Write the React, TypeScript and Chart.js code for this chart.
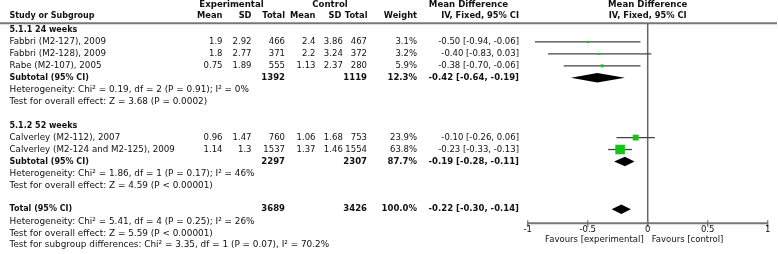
import React, { useEffect, useRef } from "react";
import { Chart, registerables } from "chart.js";

Chart.register(...registerables);

// ---------- data ----------
const studyNames = [
  "Fabbri (M2-127), 2009",
  "Fabbri (M2-128), 2009",
  "Rabe (M2-107), 2005",
  "Calverley (M2-112), 2007",
  "Calverley (M2-124 and M2-125), 2009",
];
const studyGroup = [0, 0, 0, 1, 1];
const expMean = [1.9, 1.8, 0.75, 0.96, 1.14];
const expSD = [2.92, 2.77, 1.89, 1.47, 1.3];
const expTotal = [466, 371, 555, 760, 1537];
const ctlMean = [2.4, 2.2, 1.13, 1.06, 1.37];
const ctlSD = [3.86, 3.24, 2.37, 1.68, 1.46];
const ctlTotal = [467, 372, 280, 753, 1554];
const weights = [3.1, 3.2, 5.9, 23.9, 63.8];
const meanDiff = [-0.5, -0.4, -0.38, -0.1, -0.23];
const ciLow = [-0.94, -0.83, -0.7, -0.26, -0.33];
const ciHigh = [-0.06, 0.03, -0.06, 0.06, -0.13];

const groupLabels = ["5.1.1 24 weeks", "5.1.2 52 weeks"];
const groupExpTotal = [1392, 2297];
const groupCtlTotal = [1119, 2307];
const groupWeight = [12.3, 87.7];
const groupMD = [-0.42, -0.19];
const groupLow = [-0.64, -0.28];
const groupHigh = [-0.19, -0.11];
const groupHet = [
  "Heterogeneity: Chi² = 0.19, df = 2 (P = 0.91); I² = 0%",
  "Heterogeneity: Chi² = 1.86, df = 1 (P = 0.17); I² = 46%",
];
const groupEffect = [
  "Test for overall effect: Z = 3.68 (P = 0.0002)",
  "Test for overall effect: Z = 4.59 (P < 0.00001)",
];

const totalExp = 3689;
const totalCtl = 3426;
const totalWeight = 100.0;
const totalMD = -0.22;
const totalLow = -0.3;
const totalHigh = -0.14;
const totalNotes = [
  "Heterogeneity: Chi² = 5.41, df = 4 (P = 0.25); I² = 26%",
  "Test for overall effect: Z = 5.59 (P < 0.00001)",
  "Test for subgroup differences: Chi² = 3.35, df = 1 (P = 0.07), I² = 70.2%",
];

const axisTicks = [-1, -0.5, 0, 0.5, 1];
const axisTickLabels = ["-1", "-0.5", "0", "0.5", "1"];
const favoursLeft = "Favours [experimental]";
const favoursRight = "Favours [control]";

// ---------- row layout (row units) ----------
const studyRow: number[] = new Array(studyNames.length).fill(0);
const groupRow: { header: number; sub: number; het: number; eff: number }[] = [];
let r = 0;
groupLabels.forEach((_, g) => {
  const header = r;
  r++;
  studyNames.forEach((_, k) => {
    if (studyGroup[k] === g) {
      studyRow[k] = r;
      r++;
    }
  });
  const sub = r++;
  const het = r++;
  const eff = r++;
  groupRow.push({ header, sub, het, eff });
  r++; // blank
});
const totalRow = r;

const FONT = '"DejaVu Sans", sans-serif';

function fmt2(v: number) {
  return v.toFixed(2);
}
function ciText(m: number, lo: number, hi: number) {
  return `${fmt2(m)} [${fmt2(lo)}, ${fmt2(hi)}]`;
}

export default function App() {
  const ref = useRef<HTMLCanvasElement>(null);

  useEffect(() => {
    const canvas = ref.current!;
    const COL = {
      name: 9.5,
      eMean: 222.5,
      eSD: 251.5,
      eTot: 285,
      cMean: 315.5,
      cSD: 342.8,
      cTot: 367,
      wt: 417,
      ci: 519,
    };
    const NUM = 8.5; // numbers
    const NAME = 8.7; // study names
    const NOTE = 8.9; // notes
    const LAB = 8; // bold left labels
    const HEAD = 8.3; // column headers

    const textPlugin = {
      id: "forestText",
      beforeDraw(chart: any) {
        const c = chart.ctx;
        c.save();
        c.fillStyle = "#fff";
        c.fillRect(0, 0, chart.width, chart.height);
        c.restore();
      },
      beforeDatasetsDraw(chart: any) {
        const c = chart.ctx;
        const xs = chart.scales.x;
        const ys = chart.scales.y;
        const yHead = ys.getPixelForValue(-0.56);
        const yAxis = ys.getPixelForValue(16.17);
        const x0 = xs.getPixelForValue(0);
        c.save();
        c.strokeStyle = "#777";
        c.lineWidth = 2;
        c.beginPath();
        c.moveTo(0, yHead);
        c.lineTo(777, yHead);
        c.stroke();
        c.strokeStyle = "#666";
        c.lineWidth = 1.5;
        c.beginPath();
        c.moveTo(x0, yHead);
        c.lineTo(x0, yAxis);
        c.stroke();
        c.strokeStyle = "#777";
        c.lineWidth = 2;
        c.beginPath();
        c.moveTo(xs.getPixelForValue(axisTicks[0]), yAxis);
        c.lineTo(xs.getPixelForValue(axisTicks[axisTicks.length - 1]), yAxis);
        c.stroke();
        c.lineWidth = 1.3;
        axisTicks.forEach((t) => {
          const px = xs.getPixelForValue(t);
          c.beginPath();
          c.moveTo(px, yAxis - 3);
          c.lineTo(px, yAxis + 3.5);
          c.stroke();
        });
        c.restore();
      },
      afterDraw(chart: any) {
        const c = chart.ctx;
        const xs = chart.scales.x;
        const ys = chart.scales.y;
        const Y = (row: number) => ys.getPixelForValue(row);
        const x0 = xs.getPixelForValue(0);
        const t = (s: string, x: number, y: number, align: CanvasTextAlign, size: number, bold = false) => {
          c.font = `${bold ? "bold " : ""}${size}px ${FONT}`;
          c.textAlign = align;
          c.textBaseline = "middle";
          c.fillText(s, x, y);
        };
        c.save();
        c.fillStyle = "#111";

        const h1 = Y(-2.09);
        const h2 = Y(-1.17);
        t("Experimental", 231.5, h1, "center", 8.6, true);
        t("Control", 330, h1, "center", 8.6, true);
        t("Mean Difference", 468.5, h1, "center", 8.6, true);
        t("Mean Difference", x0, h1, "center", 8.6, true);
        t("Study or Subgroup", COL.name, h2, "left", LAB, true);
        t("Mean", COL.eMean, h2, "right", HEAD, true);
        t("SD", COL.eSD, h2, "right", HEAD, true);
        t("Total", COL.eTot, h2, "right", HEAD, true);
        t("Mean", COL.cMean, h2, "right", HEAD, true);
        t("SD", COL.cSD - 1.5, h2, "right", HEAD, true);
        t("Total", COL.cTot + 0.5, h2, "right", HEAD, true);
        t("Weight", COL.wt, h2, "right", HEAD, true);
        t("IV, Fixed, 95% CI", COL.ci, h2, "right", HEAD, true);
        t("IV, Fixed, 95% CI", x0, h2, "center", HEAD, true);

        studyNames.forEach((name, k) => {
          const y = Y(studyRow[k]);
          t(name, COL.name, y, "left", NAME);
          t(String(expMean[k]), COL.eMean, y, "right", NUM);
          t(String(expSD[k]), COL.eSD, y, "right", NUM);
          t(String(expTotal[k]), COL.eTot, y, "right", NUM);
          t(String(ctlMean[k]), COL.cMean, y, "right", NUM);
          t(String(ctlSD[k]), COL.cSD, y, "right", NUM);
          t(String(ctlTotal[k]), COL.cTot, y, "right", NUM);
          t(weights[k].toFixed(1) + "%", COL.wt, y, "right", NUM);
          t(ciText(meanDiff[k], ciLow[k], ciHigh[k]), COL.ci, y, "right", NUM);
        });

        const diamond = (m: number, lo: number, hi: number, y: number) => {
          const h = 4.8;
          c.beginPath();
          c.moveTo(xs.getPixelForValue(lo), y);
          c.lineTo(xs.getPixelForValue(m), y - h);
          c.lineTo(xs.getPixelForValue(hi), y);
          c.lineTo(xs.getPixelForValue(m), y + h);
          c.closePath();
          c.fillStyle = "#000";
          c.fill();
          c.fillStyle = "#111";
        };

        groupLabels.forEach((lab, g) => {
          const gr = groupRow[g];
          t(lab, COL.name, Y(gr.header), "left", LAB, true);
          const ys2 = Y(gr.sub);
          t("Subtotal (95% CI)", COL.name, ys2, "left", LAB, true);
          t(String(groupExpTotal[g]), COL.eTot, ys2, "right", NUM, true);
          t(String(groupCtlTotal[g]), COL.cTot, ys2, "right", NUM, true);
          t(groupWeight[g].toFixed(1) + "%", COL.wt, ys2, "right", NUM, true);
          t(ciText(groupMD[g], groupLow[g], groupHigh[g]), COL.ci, ys2, "right", NUM, true);
          t(groupHet[g], COL.name, Y(gr.het), "left", NOTE);
          t(groupEffect[g], COL.name, Y(gr.eff), "left", NOTE);
          diamond(groupMD[g], groupLow[g], groupHigh[g], ys2);
        });

        const yt = Y(totalRow);
        t("Total (95% CI)", COL.name, yt, "left", LAB, true);
        t(String(totalExp), COL.eTot, yt, "right", NUM, true);
        t(String(totalCtl), COL.cTot, yt, "right", NUM, true);
        t(totalWeight.toFixed(1) + "%", COL.wt, yt, "right", NUM, true);
        t(ciText(totalMD, totalLow, totalHigh), COL.ci, yt, "right", NUM, true);
        totalNotes.forEach((s, i) => t(s, COL.name, Y(totalRow + 1 + i), "left", NOTE));
        diamond(totalMD, totalLow, totalHigh, yt);

        const yAxis = ys.getPixelForValue(16.17);
        axisTicks.forEach((tk, i) => t(axisTickLabels[i], xs.getPixelForValue(tk), yAxis + 6.5, "center", NUM));
        t(favoursLeft, x0 - 4, yAxis + 17, "right", NUM);
        t(favoursRight, x0 + 4, yAxis + 17, "left", NUM);
        c.restore();
      },
    };

    const whiskers = studyNames.map((_, k) => ({
      type: "scatter" as const,
      data: [
        { x: ciLow[k], y: studyRow[k] },
        { x: ciHigh[k], y: studyRow[k] },
      ],
      showLine: true,
      borderColor: "#444",
      borderWidth: 1.3,
      pointRadius: 0,
      order: 1,
      clip: false as any,
    }));

    const chart = new Chart(canvas, {
      type: "scatter",
      data: {
        datasets: [
          {
            data: meanDiff.map((m, k) => ({ x: m, y: studyRow[k] })),
            pointStyle: "rect",
            pointRadius: weights.map((w) => (1.2 * Math.sqrt(w)) / Math.SQRT2),
            backgroundColor: "#14c414",
            borderWidth: 0,
            showLine: false,
            order: 0,
            clip: false as any,
          } as any,
          ...whiskers,
        ],
      },
      options: {
        responsive: false,
        animation: false,
        layout: { autoPadding: false, padding: { left: 527.7, right: 10.3, top: 0, bottom: 0 } },
        plugins: {
          legend: { display: false },
          tooltip: { enabled: false },
        },
        scales: {
          x: { type: "linear", min: -1, max: 1, display: false },
          y: { type: "linear", min: -2.51, max: 18.74, reverse: true, display: false },
        },
      },
      plugins: [textPlugin],
    });
    return () => chart.destroy();
  }, []);

  return (
    <div style={{ position: "absolute", left: 0, top: 0, width: 778, height: 254, background: "#fff" }}>
      <canvas ref={ref} width={778} height={254} style={{ display: "block" }} />
    </div>
  );
}
